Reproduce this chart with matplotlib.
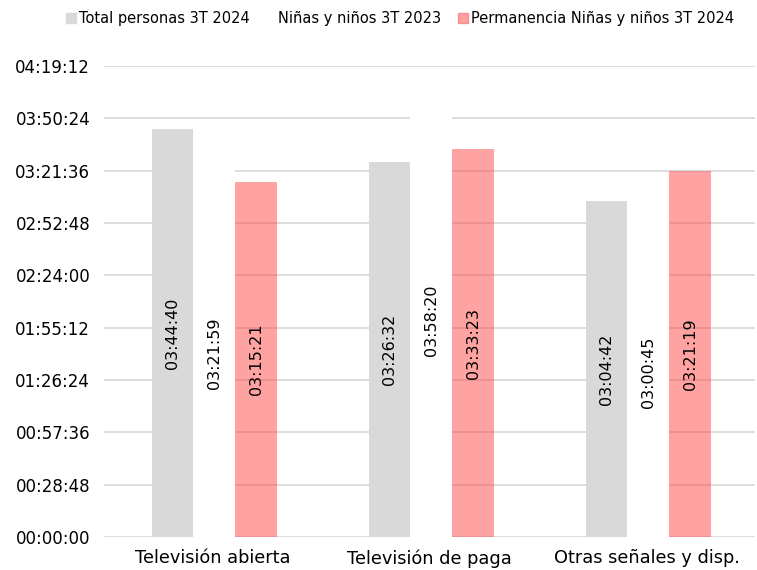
import numpy as np
import matplotlib
matplotlib.use("Agg")
import matplotlib.pyplot as plt
from matplotlib.ticker import FuncFormatter

# Data (durations as HH:MM:SS strings)
categories = ["Televisión abierta", "Televisión de paga", "Otras señales y disp."]
series_names = ["Total personas 3T 2024", "Niñas y niños 3T 2023", "Permanencia Niñas y niños 3T 2024"]
total_2024 = ["03:44:40", "03:26:32", "03:04:42"]
ninos_2023 = ["03:21:59", "03:58:20", "03:00:45"]
ninos_2024 = ["03:15:21", "03:33:23", "03:21:19"]

colors = ["#D9D9D9", "#FFFFFF", "#FF4747"]
alphas = [1.0, 1.0, 0.5]


def to_sec(s):
    h, m, sec = map(int, s.split(":"))
    return h * 3600 + m * 60 + sec


def fmt_time(v, pos=None):
    v = int(round(v))
    return f"{v // 3600:02d}:{(v % 3600) // 60:02d}:{v % 60:02d}"


plt.rcParams['font.family'] = ['DejaVu Sans']

fig = plt.figure(figsize=(7.57, 5.70), dpi=100)
ax = fig.add_axes([0.1375, 0.058, 0.86, 0.826])

x = np.arange(len(categories))
w = 0.193
all_series = [total_2024, ninos_2023, ninos_2024]

for i, (vals, name) in enumerate(zip(all_series, series_names)):
    secs = [to_sec(v) for v in vals]
    ax.bar(x + (i - 1) * w + 0.008, secs, width=w, color=colors[i], alpha=alphas[i],
           label=name, zorder=2, linewidth=0)
    for xi, s, lab in zip(x + (i - 1) * w + 0.008, secs, vals):
        ax.text(xi, s / 2, lab, rotation=90, ha='center', va='center',
                fontsize=11.5, color='black', zorder=3)

# Y axis in time steps of 28:48
step = 1728
ax.set_ylim(0, 9 * step)
ax.set_yticks(np.arange(0, 10) * step)
ax.yaxis.set_major_formatter(FuncFormatter(fmt_time))
ax.set_xlim(-0.5, 2.5)
ax.set_xticks(x)
ax.set_xticklabels(categories)

ax.grid(axis='y', color='#D9D9D9', linewidth=1.3, zorder=0)
ax.set_axisbelow(True)
for sp in ax.spines.values():
    sp.set_visible(False)
ax.tick_params(axis='y', length=0, labelsize=12, colors='black', pad=10)
ax.tick_params(axis='x', length=0, labelsize=12.8, colors='black', pad=9)

# Legend
leg_handles = [
    plt.Line2D([], [], marker='s', linestyle='', color=colors[0], markersize=7),
    plt.Line2D([], [], marker='s', linestyle='', color=colors[1], markersize=7),
    plt.Line2D([], [], marker='s', linestyle='', color=colors[2], alpha=0.5, markersize=7),
]
fig.legend(leg_handles, series_names, loc='upper center', bbox_to_anchor=(0.527, 1.003),
           ncol=3, frameon=False, fontsize=10.5, handletextpad=0.0, columnspacing=1.0,
           handlelength=1.0)

fig.savefig("out.png", dpi=100)
